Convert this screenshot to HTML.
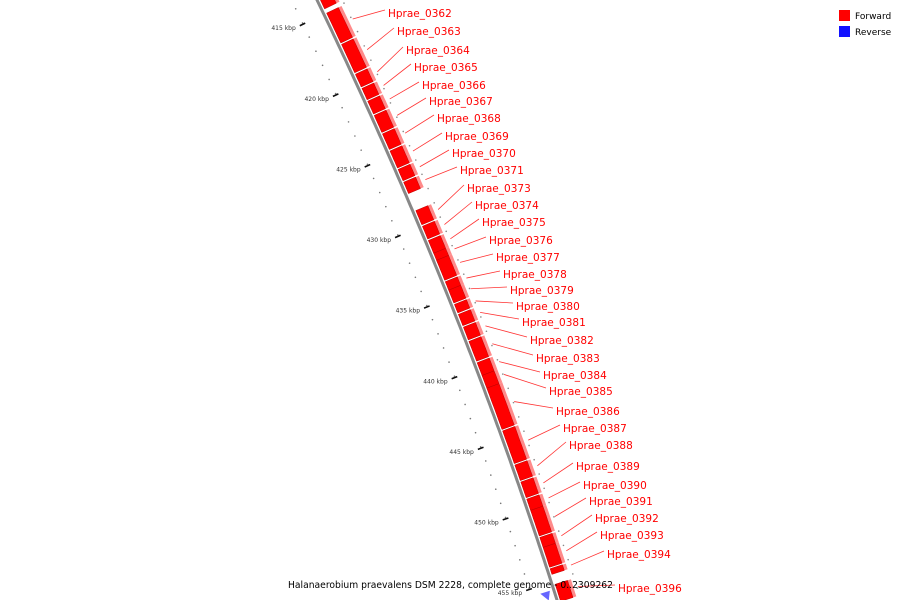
<!DOCTYPE html>
<html><head><meta charset="utf-8"><style>
html,body{margin:0;padding:0;background:#fff;}
svg{display:block;}
</style></head><body>
<svg id="map" width="900" height="600" xmlns="http://www.w3.org/2000/svg">
<g id="ticks"></g>
<path id="backbone" fill="none" stroke="#888" stroke-width="3"></path>
<g id="genes"></g>
<g id="labels"></g>
<text x="288" y="588" font-family="DejaVu Sans, sans-serif" font-size="9.5" textLength="325" lengthAdjust="spacingAndGlyphs" fill="#000">Halanaerobium praevalens DSM 2228, complete genome - 0..2309262</text>
<g>
<rect x="839" y="10" width="11" height="11" fill="#f00"/>
<text x="855" y="19" font-family="DejaVu Sans, sans-serif" font-size="9" fill="#000">Forward</text>
<rect x="839" y="26" width="11" height="11" fill="#11f"/>
<text x="855" y="35" font-family="DejaVu Sans, sans-serif" font-size="9" fill="#000">Reverse</text>
</g>
</svg>
<script>
const geneNames = ["Hprae_0361","Hprae_0362","Hprae_0363","Hprae_0364","Hprae_0365","Hprae_0366","Hprae_0367","Hprae_0368","Hprae_0369","Hprae_0370","Hprae_0371","Hprae_0373","Hprae_0374","Hprae_0375","Hprae_0376","Hprae_0377","Hprae_0378","Hprae_0379","Hprae_0380","Hprae_0381","Hprae_0382","Hprae_0383","Hprae_0384","Hprae_0385","Hprae_0386","Hprae_0387","Hprae_0388","Hprae_0389","Hprae_0390","Hprae_0391","Hprae_0392","Hprae_0393","Hprae_0394","Hprae_0396"];
const geneStarts = [413.6,415.1,417.3,419.4,420.4,421.3,422.3,423.6,424.8,426.1,427.0,429.0,430.1,431.1,432.0,432.5,434.0,434.6,435.6,436.3,437.2,438.2,439.7,440.6,441.5,444.5,446.9,448.1,449.3,450.1,452.0,452.7,454.2,455.3];
const geneEnds   = [414.8,417.2,419.3,420.3,421.2,422.2,423.5,424.7,426.0,426.9,427.8,430.0,431.0,432.0,432.5,433.9,434.6,435.5,436.2,437.1,438.1,439.6,440.6,441.5,444.4,446.8,448.0,449.2,450.1,451.9,452.7,454.1,454.6,456.5];
const labelY = [null,13,31,50,67,85,101,118,136,153,170,188,205,222,240,257,274,290,306,322,340,358,375,391,411,428,445,466,485,501,518,535,554,588];
const labelX = [null,388,397,406,414,422,429,437,445,452,460,467,475,482,489,496,503,510,516,522,530,536,543,549,556,563,569,576,583,589,595,600,607,618];
const tickKbp = [410,415,420,425,430,435,440,445,450,455];
const NS="http://www.w3.org/2000/svg";
function yOf(k){return 13+(k-415)*14.2;}
function bx(y){return 317+0.4825*y-0.0001375*y*y;}
function slope(y){return 0.4825-0.000275*y;}
function pt(k,off){const y=yOf(k);const s=slope(y);const n=Math.sqrt(1+s*s);return [bx(y)+off/n,y-off*s/n];}
function mk(tag,attrs,parent){const e=document.createElementNS(NS,tag);for(const a in attrs)e.setAttribute(a,attrs[a]);parent.appendChild(e);return e;}
// backbone
let d="";for(let y=-10;y<=610;y+=5){d+=(y===-10?"M":"L")+bx(y).toFixed(1)+","+y+" ";}
document.getElementById('backbone').setAttribute('d',d);
// ruler
const tg=document.getElementById('ticks');
for(let k=410;k<=458;k++){
  const y=yOf(k);if(y<-5||y>605)continue;
  const p=pt(k,-23), q=pt(k,23);
  const dot=mk('circle',{cx:p[0],cy:p[1],r:0.8,fill:'#777'},tg);
  
  
  const dot2=mk('circle',{cx:q[0],cy:q[1],r:0.8,fill:'#888'},tg);
  
  
}
tickKbp.forEach(k=>{
  const y=yOf(k);if(y<-5||y>605)return;
  const a=pt(k,-20),b=pt(k,-26);
  const t=mk('line',{x1:a[0],y1:a[1]+1.5,x2:b[0],y2:b[1]+1.5,stroke:'#111','stroke-width':1.6},tg);
  
  
  const lab=mk('text',{x:b[0]-4,y:b[1]+6,'font-family':'DejaVu Sans, sans-serif','font-size':6,fill:'#333','text-anchor':'end'},tg);
  
  
  lab.textContent=k+" kbp";
});
// genes
const gg=document.getElementById('genes'), lg=document.getElementById('labels');
geneNames.forEach((nm,i)=>{
  const s=geneStarts[i], e=geneEnds[i];
  const inner=[],outer=[],bev=[];
  for(let t=0;t<=6;t++){const k=s+(e-s)*t/6;inner.push(pt(k,3));outer.push(pt(k,16));bev.push(pt(k,19.5));}
  const poly=(A,B)=>A.concat(B.slice().reverse()).map(p=>p[0].toFixed(1)+","+p[1].toFixed(1)).join(" ");
  const b=mk('polygon',{points:poly(outer,bev),fill:'#ff8a8a'},gg);
  
  
  const g=mk('polygon',{points:poly(inner,outer),fill:'#f00',stroke:'#b00','stroke-width':0.5},gg);
  
  
  if(labelY[i]!==null){
    const m=pt((s+e)/2,24);
    const ln=mk('line',{x1:m[0],y1:m[1],x2:labelX[i]-3,y2:labelY[i]-3,stroke:'#f33','stroke-width':0.8},lg);
    
    
    const tx=mk('text',{x:labelX[i],y:labelY[i]+4,'font-family':'DejaVu Sans, sans-serif','font-size':10.5,fill:'#f00'},lg);
    
    
    tx.textContent=nm;
  }
});
// small reverse feature
const r=pt(455.6,-4),r2=pt(455.6,-14),r3=pt(456.2,-8);
const rv=mk('polygon',{points:`${r[0]},${r[1]} ${r2[0]},${r2[1]} ${r3[0]},${r3[1]}`,fill:'#66f'},gg);


</script>
</body></html>
